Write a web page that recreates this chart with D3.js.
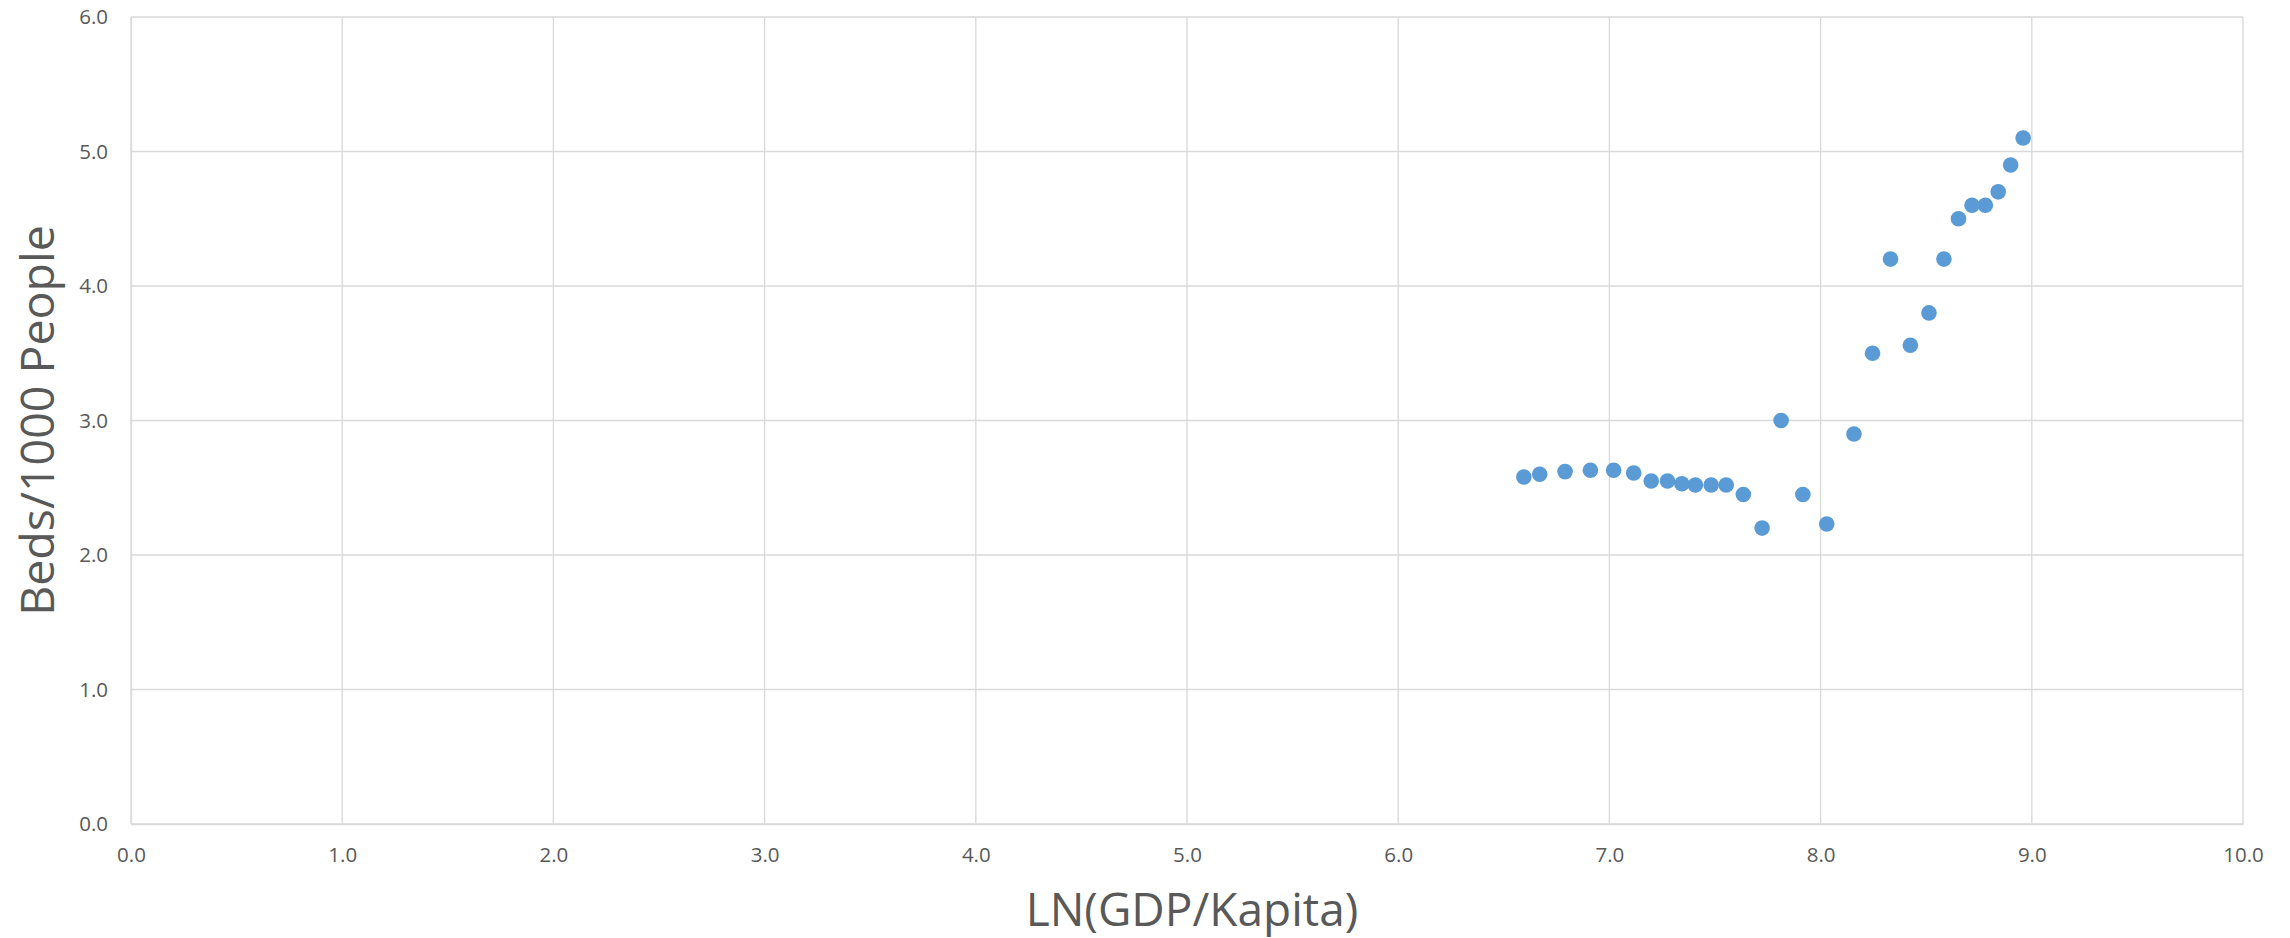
<!DOCTYPE html>
<html>
<head>
<meta charset="utf-8">
<script src="https://cdn.jsdelivr.net/npm/d3@7"></script>
<style>
  html, body { margin: 0; padding: 0; background: #fff; }
  svg { display: block; }
</style>
</head>
<body>
<svg id="chart" width="2290" height="938"></svg>
<script>
const lnGdp = [6.595, 6.670, 6.790, 6.910, 7.020, 7.115, 7.198, 7.275, 7.343, 7.407, 7.482, 7.553, 7.634, 7.723, 7.813, 7.916, 8.029, 8.158, 8.246, 8.331, 8.425, 8.513, 8.584, 8.653, 8.717, 8.780, 8.841, 8.900, 8.959];
const beds  = [2.58, 2.60, 2.62, 2.63, 2.63, 2.61, 2.55, 2.55, 2.53, 2.52, 2.52, 2.52, 2.45, 2.20, 3.00, 2.45, 2.23, 2.90, 3.50, 4.20, 3.56, 3.80, 4.20, 4.50, 4.60, 4.60, 4.70, 4.90, 5.10];
const xTicks = [0, 1, 2, 3, 4, 5, 6, 7, 8, 9, 10];
const yTicks = [0, 1, 2, 3, 4, 5, 6];
const xTitle = "LN(GDP/Kapita)";
const yTitle = "Beds/1000 People";

(function () {
const svg = d3.select("#chart");
const mLeft = 131, mRight = 2243, mTop = 17, mBottom = 824;
const font = "'Open Sans', sans-serif";

const x = d3.scaleLinear().domain([0, 10]).range([mLeft, mRight]);
const y = d3.scaleLinear().domain([0, 6]).range([mBottom, mTop]);

// gridlines
svg.append("g").selectAll("line").data(xTicks).join("line")
  .attr("x1", d => x(d)).attr("x2", d => x(d))
  .attr("y1", mTop).attr("y2", mBottom)
  .attr("stroke", "#D9D9D9").attr("stroke-width", 1.33);
svg.append("g").selectAll("line").data(yTicks).join("line")
  .attr("x1", mLeft).attr("x2", mRight)
  .attr("y1", d => y(d)).attr("y2", d => y(d))
  .attr("stroke", "#D9D9D9").attr("stroke-width", 1.33);

// axes
const xAxis = svg.append("g").attr("transform", `translate(0,${mBottom})`)
  .call(d3.axisBottom(x).tickValues(xTicks).tickFormat(d3.format(".1f")).tickSize(0).tickPadding(23));
xAxis.select(".domain").attr("stroke", "#D9D9D9").attr("stroke-width", 1.33);
xAxis.selectAll("text").attr("font-family", font).attr("font-size", 20.5).attr("fill", "#595959");

const yAxis = svg.append("g").attr("transform", `translate(${mLeft},0)`)
  .call(d3.axisLeft(y).tickValues(yTicks).tickFormat(d3.format(".1f")).tickSize(0).tickPadding(23));
yAxis.select(".domain").attr("stroke", "#D9D9D9").attr("stroke-width", 1.33);
yAxis.selectAll("text").attr("font-family", font).attr("font-size", 20.5).attr("fill", "#595959");

// points
svg.append("g").selectAll("circle").data(lnGdp.map((v, i) => [v, beds[i]])).join("circle")
  .attr("cx", d => x(d[0])).attr("cy", d => y(d[1])).attr("r", 7.8)
  .attr("fill", "#5B9BD5");

// titles
svg.append("text").attr("x", 1192).attr("y", 926)
  .attr("text-anchor", "middle").attr("font-family", font).attr("font-size", 46)
  .attr("fill", "#595959").text(xTitle);
svg.append("text").attr("transform", `translate(54,${(mTop + mBottom) / 2}) rotate(-90)`)
  .attr("text-anchor", "middle").attr("font-family", font).attr("font-size", 46.5)
  .attr("fill", "#595959").text(yTitle);
})();
</script>
</body>
</html>
